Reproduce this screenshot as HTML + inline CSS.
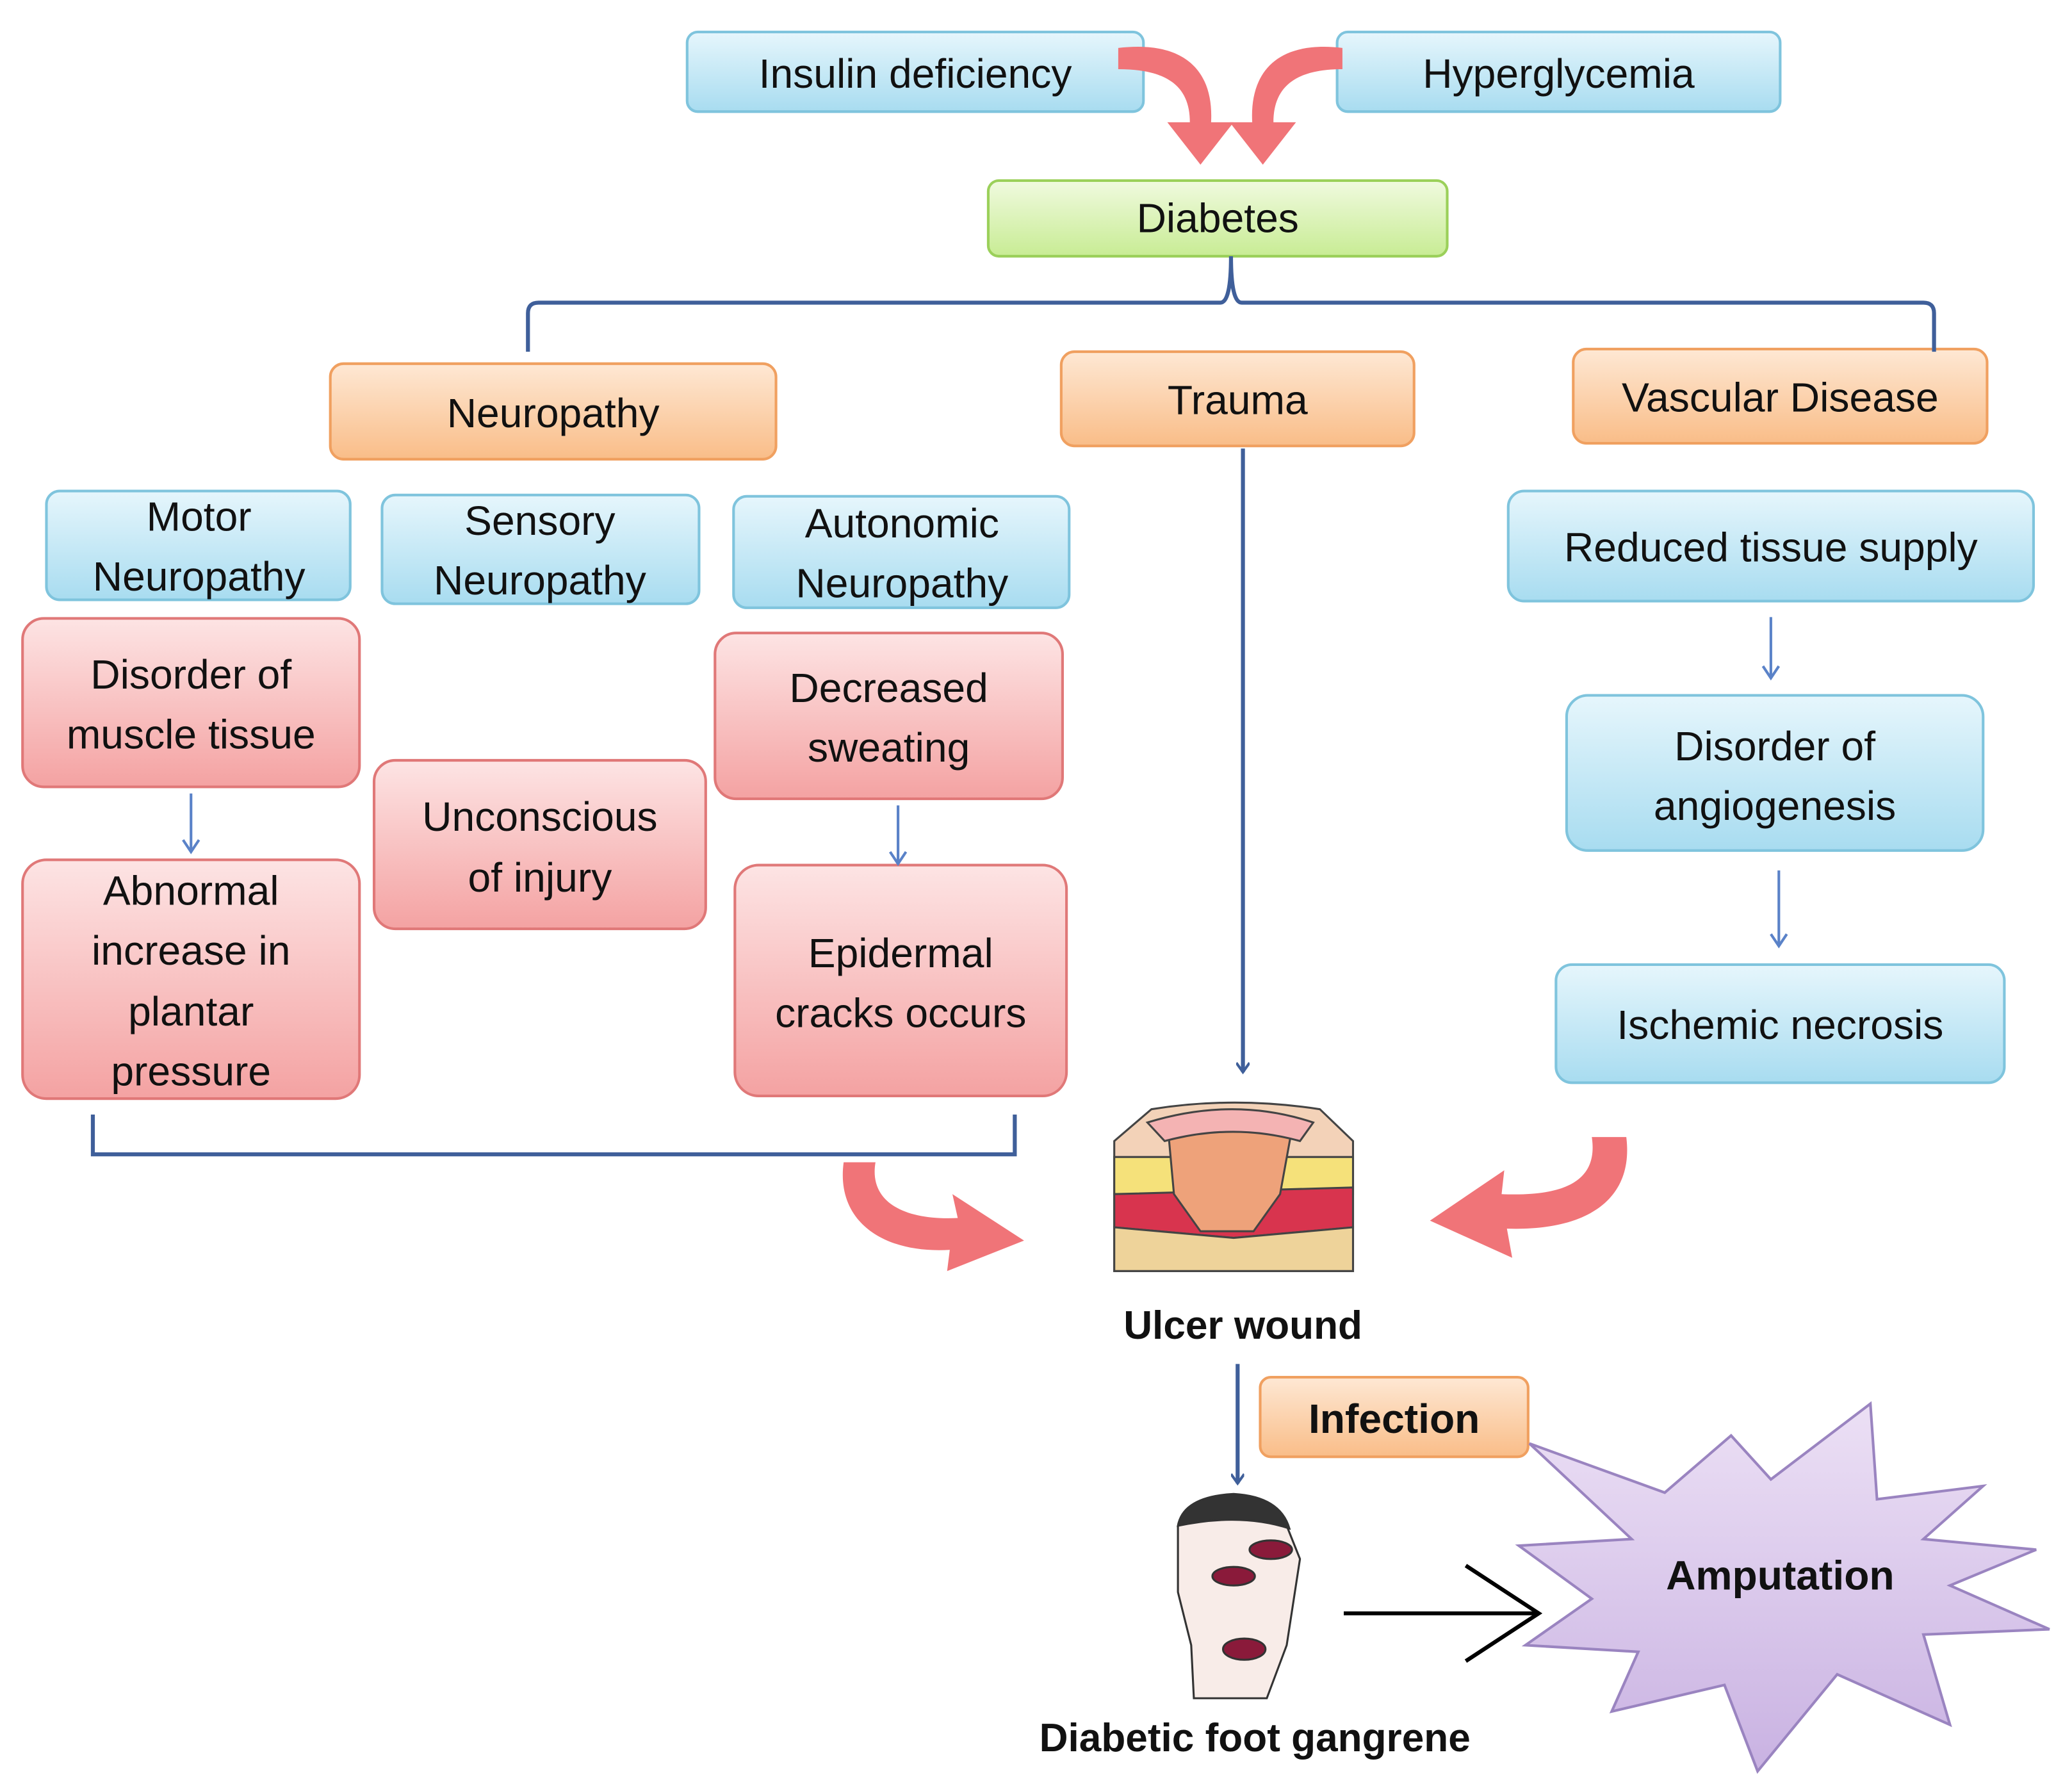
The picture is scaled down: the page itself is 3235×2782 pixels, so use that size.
<!DOCTYPE html>
<html><head><meta charset="utf-8"><style>
html,body{margin:0;padding:0;background:#fff;}
svg{display:block;}
text{font-family:"Liberation Sans",sans-serif;}
</style></head><body>
<svg width="3235" height="2782" viewBox="0 0 1562 1343" xmlns="http://www.w3.org/2000/svg">
<defs>
<linearGradient id="gb" x1="0" y1="0" x2="0" y2="1"><stop offset="0" stop-color="#e6f6fc"/><stop offset="1" stop-color="#a8dcf0"/></linearGradient>
<linearGradient id="gg" x1="0" y1="0" x2="0" y2="1"><stop offset="0" stop-color="#f0fadf"/><stop offset="1" stop-color="#c8ec94"/></linearGradient>
<linearGradient id="go" x1="0" y1="0" x2="0" y2="1"><stop offset="0" stop-color="#fee8d4"/><stop offset="1" stop-color="#f9bd88"/></linearGradient>
<linearGradient id="gr" x1="0" y1="0" x2="0" y2="1"><stop offset="0" stop-color="#fde4e4"/><stop offset="1" stop-color="#f4a2a2"/></linearGradient>
<linearGradient id="gp" x1="0" y1="0" x2="0" y2="1"><stop offset="0" stop-color="#ece0f5"/><stop offset="1" stop-color="#c9b2e2"/></linearGradient>
<marker id="ab" markerWidth="10" markerHeight="10" refX="8" refY="5" orient="auto" markerUnits="userSpaceOnUse"><path d="M1,0 L8,5 L1,10" fill="none" stroke="#3f5f9a" stroke-width="2"/></marker>
<marker id="as" markerWidth="14" markerHeight="14" refX="10" refY="7" orient="auto" markerUnits="userSpaceOnUse"><path d="M1,1 L10,7 L1,13" fill="none" stroke="#5a82c8" stroke-width="2"/></marker>
</defs>
<g stroke-width="2">
<rect x="518" y="24" width="344" height="60" rx="8" fill="url(#gb)" stroke="#7fc4dd"/>
<rect x="1008" y="24" width="334" height="60" rx="8" fill="url(#gb)" stroke="#7fc4dd"/>
<rect x="745" y="136" width="346" height="57" rx="8" fill="url(#gg)" stroke="#9bd05a"/>
<rect x="249" y="274" width="336" height="72" rx="10" fill="url(#go)" stroke="#f0a060"/>
<rect x="800" y="265" width="266" height="71" rx="10" fill="url(#go)" stroke="#f0a060"/>
<rect x="1186" y="263" width="312" height="71" rx="10" fill="url(#go)" stroke="#f0a060"/>
<rect x="35" y="370" width="229" height="82" rx="10" fill="url(#gb)" stroke="#7fc4dd"/>
<rect x="288" y="373" width="239" height="82" rx="10" fill="url(#gb)" stroke="#7fc4dd"/>
<rect x="553" y="374" width="253" height="84" rx="10" fill="url(#gb)" stroke="#7fc4dd"/>
<rect x="1137" y="370" width="396" height="83" rx="12" fill="url(#gb)" stroke="#7fc4dd"/>
<rect x="17" y="466" width="254" height="127" rx="16" fill="url(#gr)" stroke="#e07878"/>
<rect x="17" y="648" width="254" height="180" rx="18" fill="url(#gr)" stroke="#e07878"/>
<rect x="282" y="573" width="250" height="127" rx="16" fill="url(#gr)" stroke="#e07878"/>
<rect x="539" y="477" width="262" height="125" rx="16" fill="url(#gr)" stroke="#e07878"/>
<rect x="554" y="652" width="250" height="174" rx="18" fill="url(#gr)" stroke="#e07878"/>
<rect x="1181" y="524" width="314" height="117" rx="16" fill="url(#gb)" stroke="#7fc4dd"/>
<rect x="1173" y="727" width="338" height="89" rx="12" fill="url(#gb)" stroke="#7fc4dd"/>
<rect x="950" y="1038" width="202" height="60" rx="8" fill="url(#go)" stroke="#f0a060"/>
</g>
<g fill="#111" font-size="31" text-anchor="middle">
<text x="690" y="66">Insulin deficiency</text>
<text x="1175" y="66">Hyperglycemia</text>
<text x="918" y="175">Diabetes</text>
<text x="417" y="322">Neuropathy</text>
<text x="933" y="312">Trauma</text>
<text x="1342" y="310">Vascular Disease</text>
<text x="150" y="400">Motor</text><text x="150" y="445">Neuropathy</text>
<text x="407" y="403">Sensory</text><text x="407" y="448">Neuropathy</text>
<text x="680" y="405">Autonomic</text><text x="680" y="450">Neuropathy</text>
<text x="1335" y="423">Reduced tissue supply</text>
<text x="144" y="519">Disorder of</text><text x="144" y="564">muscle tissue</text>
<text x="144" y="682">Abnormal</text><text x="144" y="727">increase in</text><text x="144" y="773">plantar</text><text x="144" y="818">pressure</text>
<text x="407" y="626">Unconscious</text><text x="407" y="672">of injury</text>
<text x="670" y="529">Decreased</text><text x="670" y="574">sweating</text>
<text x="679" y="729">Epidermal</text><text x="679" y="774">cracks occurs</text>
<text x="1338" y="573">Disorder of</text><text x="1338" y="618">angiogenesis</text>
<text x="1342" y="783">Ischemic necrosis</text>
</g>
<g font-weight="bold" fill="#111" text-anchor="middle">
<text x="937" y="1009" font-size="30">Ulcer wound</text>
<text x="1051" y="1080" font-size="31">Infection</text>
<text x="946" y="1320" font-size="30">Diabetic foot gangrene</text>
</g>
<!-- connectors -->
<g fill="none" stroke="#3f5f9a" stroke-width="3">
<path d="M398,265 L398,236 Q398,228 406,228 L920,228 Q928,228 928,193 Q928,228 936,228 L1450,228 Q1458,228 1458,236 L1458,265"/>
<path d="M937,338 L937,808" marker-end="url(#ab)"/>
<path d="M70,840 L70,870 L765,870 L765,840"/>
<path d="M933,1028 L933,1118" marker-end="url(#ab)"/>
</g>
<g fill="none" stroke="#5a82c8" stroke-width="2">
<path d="M144,598 L144,642" marker-end="url(#as)"/>
<path d="M677,607 L677,651" marker-end="url(#as)"/>
<path d="M1335,465 L1335,511" marker-end="url(#as)"/>
<path d="M1341,656 L1341,713" marker-end="url(#as)"/>
</g>
<!-- pink arrows -->
<g fill="#f07478">
<path d="M843,36 C895,30 915,55 913,92 L930,92 L905,124 L880,92 L897,92 C897,65 880,52 843,52 Z"/>
<path d="M1012,36 C962,30 942,55 944,92 L927,92 L952,124 L977,92 L960,92 C960,65 977,52 1012,52 Z"/>
<path d="M636,876 L660,876 C655,905 680,920 722,918 L718,900 L772,935 L714,958 L716,942 C665,945 630,920 636,876 Z"/>
<path d="M1226,857 L1200,857 C1205,890 1180,902 1132,900 L1134,882 L1078,920 L1140,948 L1136,926 C1195,928 1232,905 1226,857 Z"/>
</g>
<!-- ulcer image -->
<g stroke="#444" stroke-width="1.5">
<path d="M840,860 L868,836 Q930,826 995,836 L1020,860 L1020,958 L840,958 Z" fill="#f3d2b8"/>
<rect x="840" y="872" width="180" height="28" fill="#f5e17a"/>
<path d="M840,900 L1020,895 L1020,925 L930,933 L840,925 Z" fill="#d8344e"/>
<path d="M840,925 L930,933 L1020,925 L1020,958 L840,958 Z" fill="#eed39a"/>
<path d="M880,845 Q930,832 975,845 L965,900 L945,928 L905,928 L885,900 Z" fill="#eea27a"/>
<path d="M865,846 Q930,826 990,846 L980,860 Q930,846 878,860 Z" fill="#f4b3b3"/>
</g>
<!-- foot -->
<g stroke="#333" stroke-width="1.5">
<path d="M888,1150 Q892,1130 930,1128 Q965,1132 970,1150 L980,1175 L970,1240 L955,1280 L900,1280 L898,1240 L888,1200 Z" fill="#f8ece8"/>
<path d="M888,1150 Q892,1128 930,1126 Q965,1128 972,1152 Q935,1140 888,1150 Z" fill="#333"/>
<ellipse cx="958" cy="1168" rx="16" ry="7" fill="#8a1a3a"/>
<ellipse cx="930" cy="1188" rx="16" ry="7" fill="#8a1a3a"/>
<ellipse cx="938" cy="1243" rx="16" ry="8" fill="#8a1a3a"/>
</g>
<!-- black arrow -->
<g fill="none" stroke="#000" stroke-width="3">
<path d="M1013,1216 L1160,1216"/>
<path d="M1105,1180 L1160,1216 L1105,1252"/>
</g>
<!-- star -->
<path d="M1153,1088 L1255,1125 L1305,1082 L1335,1115 L1410,1058 L1415,1130 L1495,1120 L1450,1160 L1535,1168 L1470,1195 L1545,1228 L1450,1232 L1470,1300 L1385,1262 L1325,1335 L1300,1270 L1215,1290 L1235,1245 L1150,1240 L1200,1205 L1145,1165 L1230,1160 Z" fill="url(#gp)" stroke="#9a84c0" stroke-width="2"/>
<text x="1342" y="1198" font-size="31" font-weight="bold" text-anchor="middle" fill="#111">Amputation</text>
</svg>
</body></html>
